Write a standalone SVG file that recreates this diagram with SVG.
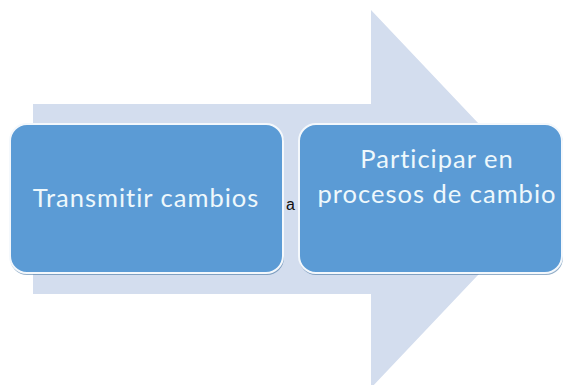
<svg xmlns="http://www.w3.org/2000/svg" width="564" height="385" viewBox="0 0 564 385">
  <style>
    .box { fill: #5b9bd5; stroke: #f4f8fc; stroke-width: 2; }
    .shadow { fill: #3d6d9c; opacity: 0.55; }
    .label { font-family: Lato, "Open Sans", "Liberation Sans", sans-serif; font-size: 25.5px; letter-spacing: 1px; fill: #eef8fc; text-anchor: middle; }
    .small { font-family: "Liberation Sans", Arial, sans-serif; font-size: 16px; fill: #111111; }
  </style>
  <rect width="564" height="385" fill="#ffffff"/>
  <g id="arrow">
    <polygon points="33,104 371,104 371,10 550,199 371,388 371,294 33,294" fill="#d3ddee"/>
  </g>
  <g id="connectors"></g>
  <g id="node1">
    <rect class="shadow" x="10" y="126" width="274" height="149" rx="17"/>
    <rect class="box" x="10" y="124" width="273" height="149" rx="17"/>
    <text class="label" x="146" y="207">Transmitir cambios</text>
  </g>
  <g id="label-a">
    <text class="small" x="286" y="210">a</text>
  </g>
  <g id="node2">
    <rect class="shadow" x="299" y="126" width="264" height="149" rx="17"/>
    <rect class="box" x="299" y="124" width="263" height="149" rx="17"/>
    <text class="label" x="437" y="168">Participar en</text>
    <text class="label" x="437" y="203">procesos de cambio</text>
  </g>
</svg>
